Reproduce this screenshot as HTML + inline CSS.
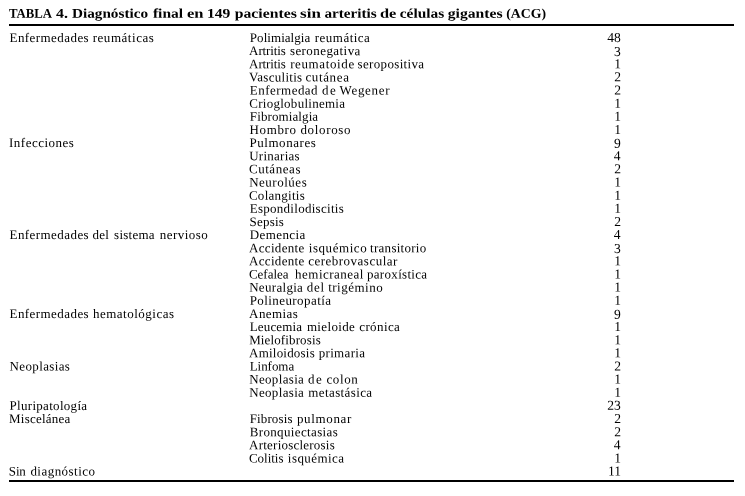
<!DOCTYPE html>
<html lang="es"><head><meta charset="utf-8"><title>TABLA 4</title>
<style>
html,body{margin:0;padding:0;background:#fff;}
body{width:745px;height:496px;position:relative;overflow:hidden;font-family:"Liberation Serif",serif;color:#000;}
.caption,.tbl,.row,.cell{margin:0;padding:0;}
.t{display:block;position:absolute;white-space:nowrap;font-size:13.0px;line-height:16px;height:16px;transform-origin:0 0;}
.h{font-weight:bold;font-size:13.4px;}
.n{font-size:13.6px;}
.l1{position:absolute;left:9px;width:725px;top:24px;height:2px;background:#000;}
.l2{position:absolute;left:9px;width:725px;top:480px;height:2px;background:#000;}
</style></head><body>

<div class="caption" role="heading">
<span class="t h" id="h0" style="left:8px;top:5px;transform:matrix(0.9520,0.0006,0,1,0.98,0.80)">TABLA</span>
<span class="t h" id="h1" style="left:55px;top:5px;transform:matrix(1.1922,0.0006,0,1,0.97,0.80)">4.</span>
<span class="t h" id="h2" style="left:71px;top:5px;transform:matrix(1.1357,0.0006,0,1,1.00,0.80)">Diagnóstico</span>
<span class="t h" id="h3" style="left:152px;top:5px;transform:matrix(1.1583,0.0006,0,1,0.92,0.80)">final</span>
<span class="t h" id="h4" style="left:186px;top:5px;transform:matrix(1.2374,0.0006,0,1,0.92,0.80)">en</span>
<span class="t h" id="h5" style="left:207px;top:5px;transform:matrix(1.1638,0.0006,0,1,0.00,0.80)">149</span>
<span class="t h" id="h6" style="left:234px;top:5px;transform:matrix(1.1733,0.0006,0,1,0.78,0.80)">pacientes</span>
<span class="t h" id="h7" style="left:300px;top:5px;transform:matrix(1.2678,0.0006,0,1,0.08,0.80)">sin</span>
<span class="t h" id="h8" style="left:324px;top:5px;transform:matrix(1.1339,0.0006,0,1,0.40,0.80)">arteritis</span>
<span class="t h" id="h9" style="left:379px;top:5px;transform:matrix(1.2221,0.0006,0,1,0.95,0.80)">de</span>
<span class="t h" id="h10" style="left:399px;top:5px;transform:matrix(1.1498,0.0006,0,1,0.72,0.80)">células</span>
<span class="t h" id="h11" style="left:447px;top:5px;transform:matrix(1.1697,0.0006,0,1,0.72,0.80)">gigantes</span>
<span class="t h" id="h12" style="left:506px;top:5px;transform:matrix(1.0279,0.0006,0,1,0.25,0.80)">(ACG)</span>
</div>
<div class="l1"></div>
<div class="tbl" role="table">
<div class="row" role="row">
<div class="cell" role="cell"><span class="t" id="a0_0" style="left:9px;top:29px;letter-spacing:0.439px;transform:matrix(1.0000,0.0006,0,1,0.50,0.95)">Enfermedades</span> <span class="t" id="a0_1" style="left:92px;top:29px;letter-spacing:0.542px;transform:matrix(1.0000,0.0006,0,1,0.65,0.95)">reumáticas</span></div>
<div class="cell" role="cell"><span class="t" id="b0_0" style="left:249px;top:29px;letter-spacing:0.045px;transform:matrix(1.0000,0.0006,0,1,0.85,0.95)">Polimialgia</span> <span class="t" id="b0_1" style="left:314px;top:29px;letter-spacing:0.481px;transform:matrix(1.0000,0.0006,0,1,0.80,0.95)">reumática</span></div>
<div class="cell" role="cell"><span class="t n" id="c0" style="left:607px;top:29px;transform:matrix(1.0000,0.0006,0,1,0.23,0.95)">48</span></div>
</div>
<div class="row" role="row">
<div class="cell" role="cell"></div>
<div class="cell" role="cell"><span class="t" id="b1_0" style="left:249px;top:43px;letter-spacing:-0.104px;transform:matrix(1.0000,0.0006,0,1,0.10,0.09)">Artritis</span> <span class="t" id="b1_1" style="left:289px;top:43px;letter-spacing:0.434px;transform:matrix(1.0000,0.0006,0,1,0.90,0.09)">seronegativa</span></div>
<div class="cell" role="cell"><span class="t n" id="c1" style="left:613px;top:43px;transform:matrix(1.0000,0.0006,0,1,0.98,0.89)">3</span></div>
</div>
<div class="row" role="row">
<div class="cell" role="cell"></div>
<div class="cell" role="cell"><span class="t" id="b2_0" style="left:249px;top:56px;letter-spacing:-0.104px;transform:matrix(1.0000,0.0006,0,1,0.10,0.23)">Artritis</span> <span class="t" id="b2_1" style="left:290px;top:56px;letter-spacing:0.614px;transform:matrix(1.0000,0.0006,0,1,0.15,0.23)">reumatoide</span> <span class="t" id="b2_2" style="left:357px;top:56px;letter-spacing:0.334px;transform:matrix(1.0000,0.0006,0,1,0.58,0.23)">seropositiva</span></div>
<div class="cell" role="cell"><span class="t n" id="c2" style="left:614px;top:56px;transform:matrix(1.0000,0.0006,0,1,0.35,0.23)">1</span></div>
</div>
<div class="row" role="row">
<div class="cell" role="cell"></div>
<div class="cell" role="cell"><span class="t" id="b3_0" style="left:249px;top:69px;letter-spacing:0.278px;transform:matrix(1.0000,0.0006,0,1,0.10,0.37)">Vasculitis</span> <span class="t" id="b3_1" style="left:305px;top:69px;letter-spacing:0.637px;transform:matrix(1.0000,0.0006,0,1,0.40,0.37)">cutánea</span></div>
<div class="cell" role="cell"><span class="t n" id="c3" style="left:614px;top:69px;transform:matrix(1.0000,0.0006,0,1,0.23,0.37)">2</span></div>
</div>
<div class="row" role="row">
<div class="cell" role="cell"></div>
<div class="cell" role="cell"><span class="t" id="b4_0" style="left:249px;top:82px;letter-spacing:0.469px;transform:matrix(1.0000,0.0006,0,1,0.85,0.51)">Enfermedad</span> <span class="t" id="b4_1" style="left:321px;top:82px;letter-spacing:1.575px;transform:matrix(1.0000,0.0006,0,1,0.90,0.51)">de</span> <span class="t" id="b4_2" style="left:339px;top:82px;letter-spacing:0.671px;transform:matrix(1.0000,0.0006,0,1,0.58,0.51)">Wegener</span></div>
<div class="cell" role="cell"><span class="t n" id="c4" style="left:614px;top:82px;transform:matrix(1.0000,0.0006,0,1,0.23,0.51)">2</span></div>
</div>
<div class="row" role="row">
<div class="cell" role="cell"></div>
<div class="cell" role="cell"><span class="t" id="b5_0" style="left:249px;top:95px;letter-spacing:0.270px;transform:matrix(1.0000,0.0006,0,1,0.25,0.65)">Crioglobulinemia</span></div>
<div class="cell" role="cell"><span class="t n" id="c5" style="left:614px;top:95px;transform:matrix(1.0000,0.0006,0,1,0.35,0.65)">1</span></div>
</div>
<div class="row" role="row">
<div class="cell" role="cell"></div>
<div class="cell" role="cell"><span class="t" id="b6_0" style="left:249px;top:108px;letter-spacing:0.102px;transform:matrix(1.0000,0.0006,0,1,0.85,0.79)">Fibromialgia</span></div>
<div class="cell" role="cell"><span class="t n" id="c6" style="left:614px;top:108px;transform:matrix(1.0000,0.0006,0,1,0.35,0.79)">1</span></div>
</div>
<div class="row" role="row">
<div class="cell" role="cell"></div>
<div class="cell" role="cell"><span class="t" id="b7_0" style="left:249px;top:121px;letter-spacing:0.655px;transform:matrix(1.0000,0.0006,0,1,0.50,0.93)">Hombro</span> <span class="t" id="b7_1" style="left:300px;top:121px;letter-spacing:0.664px;transform:matrix(1.0000,0.0006,0,1,0.38,0.93)">doloroso</span></div>
<div class="cell" role="cell"><span class="t n" id="c7" style="left:614px;top:121px;transform:matrix(1.0000,0.0006,0,1,0.35,0.93)">1</span></div>
</div>
<div class="row" role="row">
<div class="cell" role="cell"><span class="t" id="a8_0" style="left:9px;top:135px;letter-spacing:0.477px;transform:matrix(1.0000,0.0006,0,1,0.05,0.07)">Infecciones</span></div>
<div class="cell" role="cell"><span class="t" id="b8_0" style="left:249px;top:135px;letter-spacing:0.542px;transform:matrix(1.0000,0.0006,0,1,0.50,0.07)">Pulmonares</span></div>
<div class="cell" role="cell"><span class="t n" id="c8" style="left:613px;top:135px;transform:matrix(1.0000,0.0006,0,1,0.98,0.87)">9</span></div>
</div>
<div class="row" role="row">
<div class="cell" role="cell"></div>
<div class="cell" role="cell"><span class="t" id="b9_0" style="left:249px;top:148px;letter-spacing:0.262px;transform:matrix(1.0000,0.0006,0,1,0.17,0.21)">Urinarias</span></div>
<div class="cell" role="cell"><span class="t n" id="c9" style="left:613px;top:148px;transform:matrix(1.0000,0.0006,0,1,0.73,0.21)">4</span></div>
</div>
<div class="row" role="row">
<div class="cell" role="cell"></div>
<div class="cell" role="cell"><span class="t" id="b10_0" style="left:248px;top:161px;letter-spacing:0.554px;transform:matrix(1.0000,0.0006,0,1,0.92,0.35)">Cutáneas</span></div>
<div class="cell" role="cell"><span class="t n" id="c10" style="left:614px;top:161px;transform:matrix(1.0000,0.0006,0,1,0.23,0.35)">2</span></div>
</div>
<div class="row" role="row">
<div class="cell" role="cell"></div>
<div class="cell" role="cell"><span class="t" id="b11_0" style="left:249px;top:174px;letter-spacing:0.512px;transform:matrix(1.0000,0.0006,0,1,0.17,0.49)">Neurolúes</span></div>
<div class="cell" role="cell"><span class="t n" id="c11" style="left:614px;top:174px;transform:matrix(1.0000,0.0006,0,1,0.35,0.49)">1</span></div>
</div>
<div class="row" role="row">
<div class="cell" role="cell"></div>
<div class="cell" role="cell"><span class="t" id="b12_0" style="left:248px;top:187px;letter-spacing:0.272px;transform:matrix(1.0000,0.0006,0,1,0.92,0.63)">Colangitis</span></div>
<div class="cell" role="cell"><span class="t n" id="c12" style="left:614px;top:187px;transform:matrix(1.0000,0.0006,0,1,0.35,0.63)">1</span></div>
</div>
<div class="row" role="row">
<div class="cell" role="cell"></div>
<div class="cell" role="cell"><span class="t" id="b13_0" style="left:249px;top:200px;letter-spacing:0.283px;transform:matrix(1.0000,0.0006,0,1,0.67,0.77)">Espondilodiscitis</span></div>
<div class="cell" role="cell"><span class="t n" id="c13" style="left:614px;top:200px;transform:matrix(1.0000,0.0006,0,1,0.35,0.77)">1</span></div>
</div>
<div class="row" role="row">
<div class="cell" role="cell"></div>
<div class="cell" role="cell"><span class="t" id="b14_0" style="left:249px;top:213px;letter-spacing:0.240px;transform:matrix(1.0000,0.0006,0,1,0.50,0.91)">Sepsis</span></div>
<div class="cell" role="cell"><span class="t n" id="c14" style="left:614px;top:213px;transform:matrix(1.0000,0.0006,0,1,0.23,0.91)">2</span></div>
</div>
<div class="row" role="row">
<div class="cell" role="cell"><span class="t" id="a15_0" style="left:9px;top:227px;letter-spacing:0.439px;transform:matrix(1.0000,0.0006,0,1,0.50,0.05)">Enfermedades</span> <span class="t" id="a15_1" style="left:92px;top:227px;letter-spacing:0.188px;transform:matrix(1.0000,0.0006,0,1,0.55,0.05)">del</span> <span class="t" id="a15_2" style="left:114px;top:227px;letter-spacing:0.263px;transform:matrix(1.0000,0.0006,0,1,0.07,0.05)">sistema</span> <span class="t" id="a15_3" style="left:159px;top:227px;letter-spacing:0.486px;transform:matrix(1.0000,0.0006,0,1,0.67,0.05)">nervioso</span></div>
<div class="cell" role="cell"><span class="t" id="b15_0" style="left:249px;top:227px;letter-spacing:0.425px;transform:matrix(1.0000,0.0006,0,1,0.67,0.05)">Demencia</span></div>
<div class="cell" role="cell"><span class="t n" id="c15" style="left:613px;top:227px;transform:matrix(1.0000,0.0006,0,1,0.73,0.05)">4</span></div>
</div>
<div class="row" role="row">
<div class="cell" role="cell"></div>
<div class="cell" role="cell"><span class="t" id="b16_0" style="left:249px;top:240px;letter-spacing:0.297px;transform:matrix(1.0000,0.0006,0,1,0.10,0.19)">Accidente</span> <span class="t" id="b16_1" style="left:308px;top:240px;letter-spacing:0.559px;transform:matrix(1.0000,0.0006,0,1,0.73,0.19)">isquémico</span> <span class="t" id="b16_2" style="left:370px;top:240px;letter-spacing:0.270px;transform:matrix(1.0000,0.0006,0,1,0.10,0.19)">transitorio</span></div>
<div class="cell" role="cell"><span class="t n" id="c16" style="left:613px;top:240px;transform:matrix(1.0000,0.0006,0,1,0.98,0.99)">3</span></div>
</div>
<div class="row" role="row">
<div class="cell" role="cell"></div>
<div class="cell" role="cell"><span class="t" id="b17_0" style="left:249px;top:253px;letter-spacing:0.297px;transform:matrix(1.0000,0.0006,0,1,0.10,0.33)">Accidente</span> <span class="t" id="b17_1" style="left:308px;top:253px;letter-spacing:0.495px;transform:matrix(1.0000,0.0006,0,1,0.15,0.33)">cerebrovascular</span></div>
<div class="cell" role="cell"><span class="t n" id="c17" style="left:614px;top:253px;transform:matrix(1.0000,0.0006,0,1,0.35,0.33)">1</span></div>
</div>
<div class="row" role="row">
<div class="cell" role="cell"></div>
<div class="cell" role="cell"><span class="t" id="b18_0" style="left:248px;top:266px;transform:matrix(1.0000,0.0006,0,1,0.92,0.47)">Cefalea</span> <span class="t" id="b18_1" style="left:295px;top:266px;letter-spacing:0.470px;transform:matrix(1.0000,0.0006,0,1,0.10,0.47)">hemicraneal</span> <span class="t" id="b18_2" style="left:366px;top:266px;letter-spacing:0.312px;transform:matrix(1.0000,0.0006,0,1,0.97,0.47)">paroxística</span></div>
<div class="cell" role="cell"><span class="t n" id="c18" style="left:614px;top:266px;transform:matrix(1.0000,0.0006,0,1,0.35,0.47)">1</span></div>
</div>
<div class="row" role="row">
<div class="cell" role="cell"></div>
<div class="cell" role="cell"><span class="t" id="b19_0" style="left:249px;top:279px;letter-spacing:0.309px;transform:matrix(1.0000,0.0006,0,1,0.17,0.61)">Neuralgia</span> <span class="t" id="b19_1" style="left:306px;top:279px;letter-spacing:0.737px;transform:matrix(1.0000,0.0006,0,1,0.65,0.61)">del</span> <span class="t" id="b19_2" style="left:328px;top:279px;letter-spacing:0.500px;transform:matrix(1.0000,0.0006,0,1,0.15,0.61)">trigémino</span></div>
<div class="cell" role="cell"><span class="t n" id="c19" style="left:614px;top:279px;transform:matrix(1.0000,0.0006,0,1,0.35,0.61)">1</span></div>
</div>
<div class="row" role="row">
<div class="cell" role="cell"></div>
<div class="cell" role="cell"><span class="t" id="b20_0" style="left:249px;top:292px;letter-spacing:0.425px;transform:matrix(1.0000,0.0006,0,1,0.67,0.75)">Polineuropatía</span></div>
<div class="cell" role="cell"><span class="t n" id="c20" style="left:614px;top:292px;transform:matrix(1.0000,0.0006,0,1,0.35,0.75)">1</span></div>
</div>
<div class="row" role="row">
<div class="cell" role="cell"><span class="t" id="a21_0" style="left:9px;top:305px;letter-spacing:0.439px;transform:matrix(1.0000,0.0006,0,1,0.50,0.89)">Enfermedades</span> <span class="t" id="a21_1" style="left:92px;top:305px;letter-spacing:0.500px;transform:matrix(1.0000,0.0006,0,1,0.92,0.89)">hematológicas</span></div>
<div class="cell" role="cell"><span class="t" id="b21_0" style="left:249px;top:305px;letter-spacing:0.396px;transform:matrix(1.0000,0.0006,0,1,0.10,0.89)">Anemias</span></div>
<div class="cell" role="cell"><span class="t n" id="c21" style="left:613px;top:305px;transform:matrix(1.0000,0.0006,0,1,0.98,1.69)">9</span></div>
</div>
<div class="row" role="row">
<div class="cell" role="cell"></div>
<div class="cell" role="cell"><span class="t" id="b22_0" style="left:249px;top:319px;letter-spacing:0.168px;transform:matrix(1.0000,0.0006,0,1,0.67,0.03)">Leucemia</span> <span class="t" id="b22_1" style="left:306px;top:319px;letter-spacing:0.357px;transform:matrix(1.0000,0.0006,0,1,0.90,0.03)">mieloide</span> <span class="t" id="b22_2" style="left:359px;top:319px;letter-spacing:0.396px;transform:matrix(1.0000,0.0006,0,1,0.22,0.03)">crónica</span></div>
<div class="cell" role="cell"><span class="t n" id="c22" style="left:614px;top:319px;transform:matrix(1.0000,0.0006,0,1,0.35,0.03)">1</span></div>
</div>
<div class="row" role="row">
<div class="cell" role="cell"></div>
<div class="cell" role="cell"><span class="t" id="b23_0" style="left:249px;top:332px;letter-spacing:0.123px;transform:matrix(1.0000,0.0006,0,1,0.17,0.17)">Mielofibrosis</span></div>
<div class="cell" role="cell"><span class="t n" id="c23" style="left:614px;top:332px;transform:matrix(1.0000,0.0006,0,1,0.35,0.17)">1</span></div>
</div>
<div class="row" role="row">
<div class="cell" role="cell"></div>
<div class="cell" role="cell"><span class="t" id="b24_0" style="left:249px;top:345px;letter-spacing:0.205px;transform:matrix(1.0000,0.0006,0,1,0.10,0.31)">Amiloidosis</span> <span class="t" id="b24_1" style="left:318px;top:345px;letter-spacing:0.332px;transform:matrix(1.0000,0.0006,0,1,0.65,0.31)">primaria</span></div>
<div class="cell" role="cell"><span class="t n" id="c24" style="left:614px;top:345px;transform:matrix(1.0000,0.0006,0,1,0.35,0.31)">1</span></div>
</div>
<div class="row" role="row">
<div class="cell" role="cell"><span class="t" id="a25_0" style="left:9px;top:358px;letter-spacing:0.372px;transform:matrix(1.0000,0.0006,0,1,0.50,0.45)">Neoplasias</span></div>
<div class="cell" role="cell"><span class="t" id="b25_0" style="left:249px;top:358px;letter-spacing:-0.042px;transform:matrix(1.0000,0.0006,0,1,0.67,0.45)">Linfoma</span></div>
<div class="cell" role="cell"><span class="t n" id="c25" style="left:614px;top:358px;transform:matrix(1.0000,0.0006,0,1,0.23,0.45)">2</span></div>
</div>
<div class="row" role="row">
<div class="cell" role="cell"></div>
<div class="cell" role="cell"><span class="t" id="b26_0" style="left:249px;top:371px;letter-spacing:0.341px;transform:matrix(1.0000,0.0006,0,1,0.17,0.59)">Neoplasia</span> <span class="t" id="b26_1" style="left:308px;top:371px;letter-spacing:1.475px;transform:matrix(1.0000,0.0006,0,1,0.10,0.59)">de</span> <span class="t" id="b26_2" style="left:326px;top:371px;letter-spacing:0.631px;transform:matrix(1.0000,0.0006,0,1,0.40,0.59)">colon</span></div>
<div class="cell" role="cell"><span class="t n" id="c26" style="left:614px;top:371px;transform:matrix(1.0000,0.0006,0,1,0.35,0.59)">1</span></div>
</div>
<div class="row" role="row">
<div class="cell" role="cell"></div>
<div class="cell" role="cell"><span class="t" id="b27_0" style="left:249px;top:384px;letter-spacing:0.341px;transform:matrix(1.0000,0.0006,0,1,0.17,0.73)">Neoplasia</span> <span class="t" id="b27_1" style="left:308px;top:384px;letter-spacing:0.380px;transform:matrix(1.0000,0.0006,0,1,0.35,0.73)">metastásica</span></div>
<div class="cell" role="cell"><span class="t n" id="c27" style="left:614px;top:384px;transform:matrix(1.0000,0.0006,0,1,0.35,0.73)">1</span></div>
</div>
<div class="row" role="row">
<div class="cell" role="cell"><span class="t" id="a28_0" style="left:9px;top:397px;letter-spacing:0.304px;transform:matrix(1.0000,0.0006,0,1,0.50,0.87)">Pluripatología</span></div>
<div class="cell" role="cell"></div>
<div class="cell" role="cell"><span class="t n" id="c28" style="left:607px;top:397px;transform:matrix(1.0000,0.0006,0,1,0.23,0.87)">23</span></div>
</div>
<div class="row" role="row">
<div class="cell" role="cell"><span class="t" id="a29_0" style="left:9px;top:411px;letter-spacing:0.244px;transform:matrix(1.0000,0.0006,0,1,0.00,0.01)">Miscelánea</span></div>
<div class="cell" role="cell"><span class="t" id="b29_0" style="left:249px;top:411px;letter-spacing:0.125px;transform:matrix(1.0000,0.0006,0,1,0.67,0.01)">Fibrosis</span> <span class="t" id="b29_1" style="left:296px;top:411px;letter-spacing:0.643px;transform:matrix(1.0000,0.0006,0,1,0.97,0.01)">pulmonar</span></div>
<div class="cell" role="cell"><span class="t n" id="c29" style="left:614px;top:411px;transform:matrix(1.0000,0.0006,0,1,0.23,0.01)">2</span></div>
</div>
<div class="row" role="row">
<div class="cell" role="cell"></div>
<div class="cell" role="cell"><span class="t" id="b30_0" style="left:249px;top:424px;letter-spacing:0.359px;transform:matrix(1.0000,0.0006,0,1,0.67,0.15)">Bronquiectasias</span></div>
<div class="cell" role="cell"><span class="t n" id="c30" style="left:614px;top:424px;transform:matrix(1.0000,0.0006,0,1,0.23,0.15)">2</span></div>
</div>
<div class="row" role="row">
<div class="cell" role="cell"></div>
<div class="cell" role="cell"><span class="t" id="b31_0" style="left:249px;top:437px;letter-spacing:0.220px;transform:matrix(1.0000,0.0006,0,1,0.10,0.29)">Arteriosclerosis</span></div>
<div class="cell" role="cell"><span class="t n" id="c31" style="left:613px;top:437px;transform:matrix(1.0000,0.0006,0,1,0.73,0.29)">4</span></div>
</div>
<div class="row" role="row">
<div class="cell" role="cell"></div>
<div class="cell" role="cell"><span class="t" id="b32_0" style="left:248px;top:450px;letter-spacing:-0.013px;transform:matrix(1.0000,0.0006,0,1,0.92,0.43)">Colitis</span> <span class="t" id="b32_1" style="left:287px;top:450px;letter-spacing:0.447px;transform:matrix(1.0000,0.0006,0,1,0.83,0.43)">isquémica</span></div>
<div class="cell" role="cell"><span class="t n" id="c32" style="left:614px;top:450px;transform:matrix(1.0000,0.0006,0,1,0.35,0.43)">1</span></div>
</div>
<div class="row" role="row">
<div class="cell" role="cell"><span class="t" id="a33_0" style="left:8px;top:463px;letter-spacing:-0.188px;transform:matrix(1.0000,0.0006,0,1,0.85,0.57)">Sin</span> <span class="t" id="a33_1" style="left:30px;top:463px;letter-spacing:0.465px;transform:matrix(1.0000,0.0006,0,1,0.40,0.57)">diagnóstico</span></div>
<div class="cell" role="cell"></div>
<div class="cell" role="cell"><span class="t n" id="c33" style="left:607px;top:463px;transform:matrix(1.0000,0.0006,0,1,0.98,0.57)">11</span></div>
</div>
</div>
<div class="l2"></div>
</body></html>
